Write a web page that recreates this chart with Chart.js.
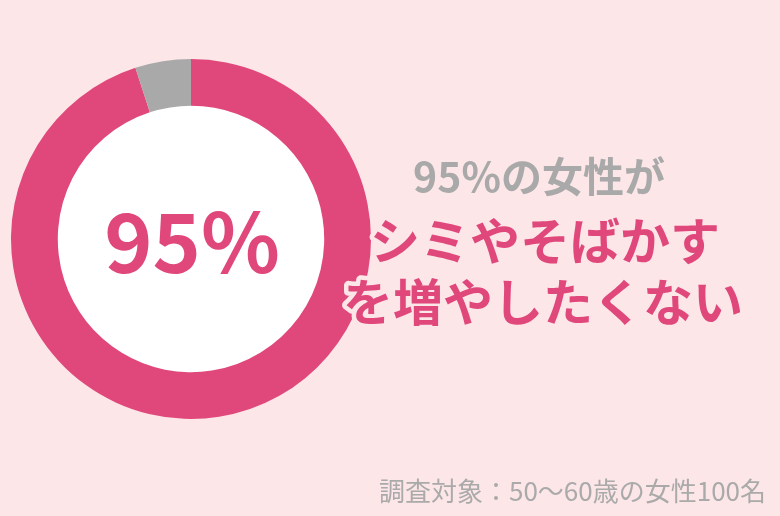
<!DOCTYPE html>
<html><head><meta charset="utf-8">
<script src="https://cdn.jsdelivr.net/npm/chart.js@4.4.1/dist/chart.umd.min.js"></script>
<style>
html,body{margin:0;padding:0;background:#fde6e8;}
#wrap{width:780px;height:516px;position:relative;}
</style></head>
<body><div id="wrap"><canvas id="c" width="780" height="516"></canvas></div>
<script>
const categories = ['シミやそばかすを増やしたくない', 'その他'];
const values = [95, 5];
const colors = ['#e0487c', '#a9a9a9'];
const centerLabel = '95%';
const headline = '95%の女性が';
const mainLines = ['シミやそばかす', 'を増やしたくない'];
const footnote = '調査対象：50〜60歳の女性100名';

const BG = '#fde6e8';
const FONT = '"Noto Sans CJK JP", "Noto Sans", sans-serif';

const textPlugin = {
  id: 'texts',
  beforeDatasetsDraw(chart) {
    const arc = chart.getDatasetMeta(0).data[0];
    const ctx = chart.ctx;
    ctx.save();
    ctx.beginPath();
    ctx.arc(arc.x, arc.y, arc.innerRadius + 1, 0, Math.PI * 2);
    ctx.fillStyle = '#ffffff';
    ctx.fill();
    ctx.restore();
  },
  afterDraw(chart) {
    const ctx = chart.ctx;
    const arc = chart.getDatasetMeta(0).data[0];
    ctx.save();
    ctx.textAlign = 'center';
    ctx.textBaseline = 'middle';
    // center label
    ctx.fillStyle = '#e0487c';
    ctx.font = 'bold 82px ' + FONT;
    ctx.fillText(centerLabel, arc.x + 1, arc.y + 3);
    // headline
    ctx.fillStyle = '#a9a9a9';
    ctx.font = 'bold 41px ' + FONT;
    ctx.fillText(headline, 539, 176);
    // main lines
    ctx.font = 'bold 50px ' + FONT;
    ctx.lineJoin = 'round';
    ctx.lineWidth = 9;
    ctx.strokeStyle = BG;
    const ys = [241, 302];
    const xs = [545, 543];
    mainLines.forEach((t, i) => { ctx.strokeText(t, xs[i], ys[i]); });
    ctx.fillStyle = '#e0487c';
    mainLines.forEach((t, i) => { ctx.fillText(t, xs[i], ys[i]); });
    // footnote
    ctx.textAlign = 'right';
    ctx.fillStyle = '#aaaaaa';
    ctx.font = '26px ' + FONT;
    ctx.fillText(footnote, 766, 491);
    ctx.restore();
  }
};

new Chart(document.getElementById('c'), {
  type: 'doughnut',
  data: {
    labels: categories,
    datasets: [{ data: values, backgroundColor: colors, borderWidth: 0, hoverOffset: 0 }]
  },
  options: {
    responsive: false,
    animation: false,
    cutout: '74%',
    layout: { padding: { left: 11, top: 59, right: 409, bottom: 97 } },
    plugins: { legend: { display: false }, tooltip: { enabled: false } }
  },
  plugins: [textPlugin]
});
</script></body></html>
